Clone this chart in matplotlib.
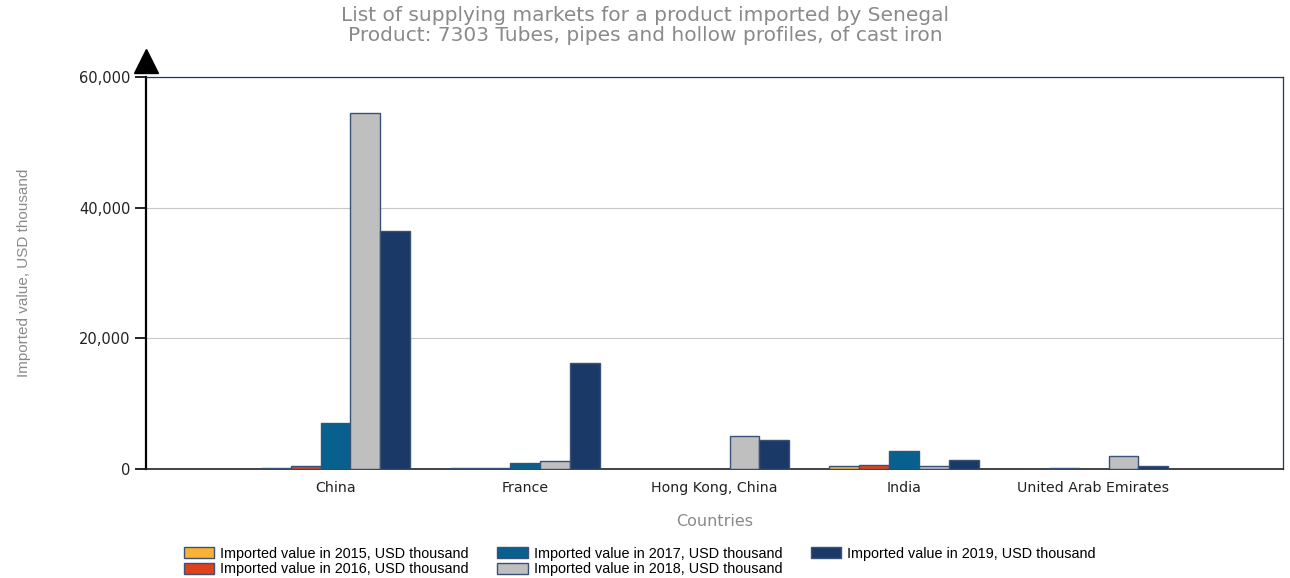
import numpy as np
import matplotlib
matplotlib.use("Agg")
import matplotlib.pyplot as plt
from matplotlib.ticker import FuncFormatter

countries = ["China", "France", "Hong Kong, China", "India", "United Arab Emirates"]
years = ["2015", "2016", "2017", "2018", "2019"]
v2015 = [100, 100, 0, 450, 0]
v2016 = [500, 100, 0, 600, 100]
v2017 = [7000, 950, 0, 2750, 0]
v2018 = [54500, 1250, 5050, 400, 2000]
v2019 = [36400, 16200, 4450, 1400, 450]
series = [v2015, v2016, v2017, v2018, v2019]
colors = ["#F9B233", "#E0401A", "#08608F", "#BFBFBF", "#1B3966"]

arial = ["Liberation Sans", "DejaVu Sans"]

fig = plt.figure(figsize=(12.9, 5.78), dpi=100)
ax = fig.add_axes([0.1132, 0.1886, 0.8814, 0.6782])

x = np.arange(len(countries))
w = 0.158
for i, (vals, c) in enumerate(zip(series, colors)):
    ax.bar(x + (i - 2) * w, vals, w, color=c, edgecolor="#3A5278", linewidth=1,
           label="Imported value in %s, USD thousand" % years[i], zorder=3)

ax.set_xlim(-1, 5)
ax.set_ylim(0, 60000)
ax.set_yticks([0, 20000, 40000, 60000])
ax.yaxis.set_major_formatter(FuncFormatter(lambda v, p: "{:,.0f}".format(v)))
ax.grid(axis="y", color="#C8C8C8", linewidth=0.8, zorder=0)
ax.set_xticks(x)
ax.set_xticklabels(countries, fontsize=10.2, color="#222222")
ax.tick_params(axis="x", length=0, pad=9)
ax.tick_params(axis="y", length=8, width=1.2, color="black", labelsize=10.5,
               labelcolor="#222222", pad=3)

for s in ["top", "right"]:
    ax.spines[s].set_color("#1B3966")
    ax.spines[s].set_linewidth(0.9)
ax.spines["left"].set_color("black")
ax.spines["left"].set_linewidth(1.6)
ax.spines["bottom"].set_color("#222222")
ax.spines["bottom"].set_linewidth(1.2)

# arrow head on the y axis
ax.plot([0], [1.04], marker="^", markersize=17, color="black",
        transform=ax.transAxes, clip_on=False)

ax.set_xlabel("Countries", fontsize=11.5, color="#8A8A8A", labelpad=13)
ax.set_ylabel("Imported value, USD thousand", fontsize=11, color="#8A8A8A",
              labelpad=35, family=arial)

fig.suptitle("List of supplying markets for a product imported by Senegal\n"
             "Product: 7303 Tubes, pipes and hollow profiles, of cast iron",
             fontsize=14.5, color="#8A8A8A", y=0.99, linespacing=1.05)

ax.legend(loc="upper left", bbox_to_anchor=(0.027, -0.18), ncol=3, frameon=False,
          prop={"family": arial, "size": 10.4},
          handlelength=2.1, handleheight=0.8, handletextpad=0.4, columnspacing=2.0,
          labelspacing=0.1, borderpad=0)

fig.savefig("out.png", dpi=100)
